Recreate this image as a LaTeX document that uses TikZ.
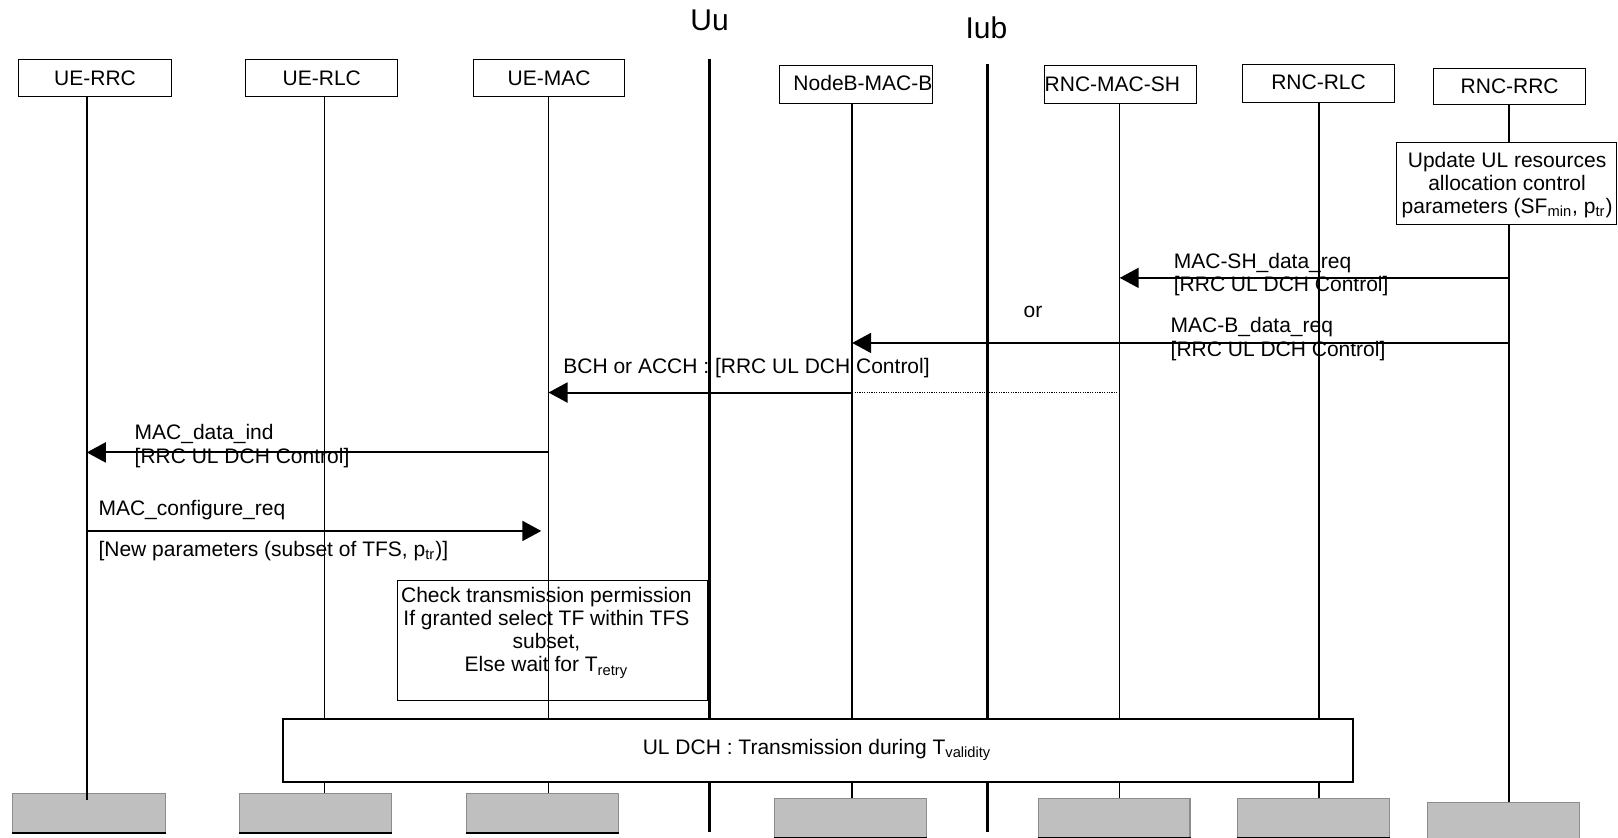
\documentclass[tikz,border=0pt]{standalone}
\usepackage{fontspec}
\setmainfont{Liberation Sans}
\usetikzlibrary{arrows.meta,fit}
\begin{document}
\begin{tikzpicture}[x=0.5165pt,y=-0.5165pt,
  every node/.style={font=\fontsize{10.5}{11.6}\selectfont, inner sep=0pt},
  topbox/.style={draw, line width=0.5pt, inner sep=0pt},
  graybox/.style={fill=black!25, draw=black!45, line width=0.6pt, inner sep=0pt},
  life/.style={line width=0.75pt},
  iface/.style={line width=1.2pt},
  msg/.style={line width=1pt, -{Triangle[length=9.5pt,width=10pt]}},
  lbl/.style={anchor=west},
  bigl/.style={font=\fontsize{15}{17}\selectfont}
]
\useasboundingbox (0,0) rectangle (1566.4,811.2);

% lifeline x positions
\foreach \n/\x in {Lrrc/84, Lrlc/314, Lmac/531, Lnb/825, Lsh/1084, Lnrlc/1277, Lnrrc/1461}
  \coordinate (\n) at (\x,0);
% message y levels
\foreach \n/\y in {ya/269, yb/332, yc/380, yd/438, ye/514, yend/774}
  \coordinate (\n) at (0,\y);

% top boxes
\node[topbox, fit={(18,58) (166,93)}] (ueRRC) {};
\node (ueRRCt) at (92,75.5) {UE-RRC};
\node[topbox, fit={(238,58) (385,93)}] (ueRLC) {};
\node (ueRLCt) at (311.5,75.5) {UE-RLC};
\node[topbox, fit={(458,58) (605,93)}] (ueMAC) {};
\node (ueMACt) at (531.5,75.5) {UE-MAC};
\node[topbox, fit={(755,63) (903,100)}] (nbMAC) {};
\node[anchor=east] (nbMACt) at (903,80) {NodeB-MAC-B};
\node[topbox, fit={(1011,63) (1158,100)}] (rncSH) {};
\node[anchor=west] (rncSHt) at (1011,81.5) {RNC-MAC-SH};
\node[topbox, fit={(1203,62) (1350,99)}] (rncRLC) {};
\node (rncRLCt) at (1276.5,79.5) {RNC-RLC};
\node[topbox, fit={(1388,66) (1535,101)}] (rncRRC) {};
\node (rncRRCt) at (1461.5,83.5) {RNC-RRC};

% interface labels and lines
\node[bigl] (uu) at (687,20) {Uu};
\node[bigl] (iub) at (955,27) {Iub};
\coordinate (uuTop) at (687,57);
\coordinate (uuBot) at (687,805);
\coordinate (iubTop) at (956,62);
\coordinate (iubBot) at (956,805);
\draw[iface] (uuTop) -- (uuBot);
\draw[iface] (iubTop) -- (iubBot);

% bottom gray boxes
\node[graybox, fit={(12,768) (160,806)}] (b1) {};
\node[graybox, fit={(232,768) (379,806)}] (b2) {};
\node[graybox, fit={(452,768) (599,806)}] (b3) {};
\node[graybox, fit={(750,773) (897,811)}] (b4) {};
\node[graybox, fit={(1005,773) (1152,811)}] (b5) {};
\node[graybox, fit={(1198,773) (1345,811)}] (b6) {};
\node[graybox, fit={(1382,777) (1529,813)}] (b7) {};
\foreach \b in {b1,b2,b3,b4,b5,b6,b7}
  \draw[line width=1pt] (\b.south west) -- (\b.south east);

% lifelines
\draw[life] (ueRRC.south -| Lrrc) -- (Lrrc |- yend);
\draw[life] (ueRLC.south -| Lrlc) -- (b2.north -| Lrlc);
\draw[life] (ueMAC.south -| Lmac) -- (b3.north -| Lmac);
\draw[life] (nbMAC.south -| Lnb) -- (b4.north -| Lnb);
\draw[life] (rncSH.south -| Lsh) -- (b5.north -| Lsh);
\draw[life] (rncRLC.south -| Lnrlc) -- (b6.north -| Lnrlc);
\draw[life] (rncRRC.south -| Lnrrc) -- (b7.north -| Lnrrc);

% update box
\node[topbox, fill=white, fit={(1352,138) (1565,217)}] (upd) {};
\node[align=center] (updt) at (1459,179)
  {Update UL resources\\allocation control\\parameters (SF\textsubscript{min}, p\textsubscript{tr})};

% messages
\draw[msg] (Lnrrc |- ya) -- (Lsh |- ya);
\node[lbl] (m1a) at (1136,255) {MAC-SH\_data\_req};
\node[lbl] (m1b) at (1136,277) {[RRC UL DCH Control]};
\node (or) at (1000,302) {or};
\draw[msg] (Lnrrc |- yb) -- (Lnb |- yb);
\node[lbl] (m2a) at (1133,317) {MAC-B\_data\_req};
\node[lbl] (m2b) at (1133,340) {[RRC UL DCH Control]};
\draw[line width=0.7pt, dash pattern=on 0.6pt off 0.6pt] (Lsh |- yc) -- (Lnb |- yc);
\draw[msg] (Lnb |- yc) -- (Lmac |- yc);
\node[lbl] (m3) at (545,356) {BCH or ACCH : [RRC UL DCH Control]};
\draw[msg] (Lmac |- yd) -- (Lrrc |- yd);
\node[lbl] (m4a) at (130,420) {MAC\_data\_ind};
\node[lbl] (m4b) at (130,443) {[RRC UL DCH Control]};
\draw[msg, shorten >=3.6pt] (Lrrc |- ye) -- (Lmac |- ye);
\node[lbl] (m5a) at (95,494) {MAC\_configure\_req};
\node[lbl] (m5b) at (95,533) {[New parameters (subset of TFS, p\textsubscript{tr})]};

% check box (transparent)
\node[topbox, fit={(385,562) (685,678)}] (chk) {};
\node[align=center] (chkt) at (529,612.5)
  {Check transmission permission\\If granted select TF within TFS\\subset,\\Else wait for T\textsubscript{retry}};

% UL DCH box
\node[topbox, line width=0.9pt, fill=white, fit={(274,696) (1310,757)}] (ul) {};
\node (ult) at (791,726) {UL DCH : Transmission during T\textsubscript{validity}};
\end{tikzpicture}
\end{document}
